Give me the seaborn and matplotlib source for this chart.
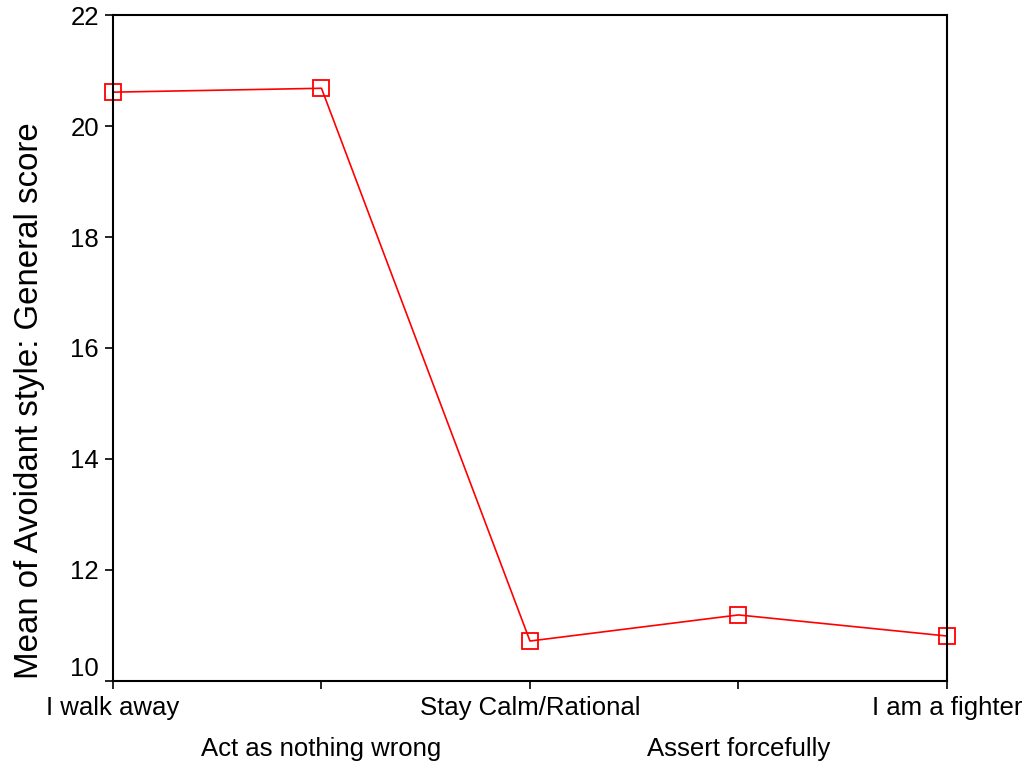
import matplotlib
matplotlib.use("Agg")
import matplotlib.pyplot as plt
import matplotlib.transforms as mtransforms
import seaborn as sns
import pandas as pd

categories = ["I walk away", "Act as nothing wrong", "Stay Calm/Rational",
              "Assert forcefully", "I am a fighter"]
means = [20.61, 20.68, 10.72, 11.19, 10.81]
yticks = [10, 12, 14, 16, 18, 20, 22]

sns.set_theme(style="white")
plt.rcParams["font.family"] = ["Liberation Sans", "DejaVu Sans"]

df = pd.DataFrame({"pos": range(len(categories)), "mean": means})

fig = plt.figure(figsize=(10.29, 7.66), dpi=100)
ax = fig.add_axes([0.1098, 0.111, 0.8105, 0.8694])

sns.lineplot(data=df, x="pos", y="mean", ax=ax, color="#ff0000", linewidth=1.2,
             marker="s", markersize=11, markerfacecolor="none",
             markeredgecolor="#ff0000", markeredgewidth=1.3, clip_on=False)

ax.set_xlim(0, len(categories) - 1)
ax.set_ylim(10, 22)
ax.set_yticks(yticks)
ax.set_yticklabels([str(v) for v in yticks])
ax.set_xticks(range(len(categories)))
ax.set_xticklabels(categories)
ax.set_xlabel("")
ax.set_ylabel("Mean of Avoidant style: General score", fontsize=23.8,
              color="black")
ax.yaxis.set_label_coords(-0.082, 0.421)

ax.tick_params(axis="both", which="major", direction="out", length=6, width=1.2,
               color="black", labelsize=18.5, labelcolor="black",
               bottom=True, left=True)
ax.tick_params(axis="y", pad=4)
for i, t in enumerate(ax.xaxis.get_major_ticks()):
    t.set_pad(5 if i % 2 == 0 else 34.5)

# lowest y label sits slightly above its tick (as in the reference)
lab0 = ax.get_yticklabels()[0]
lab0.set_transform(lab0.get_transform() +
                   mtransforms.ScaledTranslation(0, 14 / 100, fig.dpi_scale_trans))

for s in ax.spines.values():
    s.set_visible(True)
    s.set_color("black")
    s.set_linewidth(1.5)
ax.grid(False)

fig.savefig("out.png", dpi=100)
